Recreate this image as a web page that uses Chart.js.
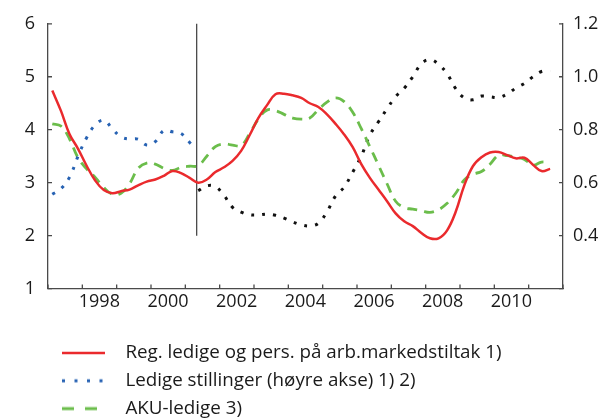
<!DOCTYPE html>
<html lang="no">
<head>
<meta charset="utf-8">
<script src="https://cdn.jsdelivr.net/npm/chart.js@4.4.1/dist/chart.umd.min.js"></script>
<style>
html,body{margin:0;padding:0;background:#fff;}
#wrap{width:603px;height:419px;}
</style>
</head>
<body>
<div id="wrap"><canvas id="chart" width="603" height="419"></canvas></div>
<script>
// kvartalstall (midt i kvartalet)
const tidA=[1997.125,1997.375,1997.625,1997.875,1998.125,1998.375,1998.625,1998.875,
  1999.125,1999.375,1999.625,1999.875,2000.125,2000.375,2000.625,2000.875,
  2001.125,2001.375,2001.625,2001.875,2002.125,2002.375,2002.625,2002.875,
  2003.125,2003.375,2003.625,2003.875,2004.125,2004.375,2004.625,2004.875,
  2005.125,2005.375,2005.625,2005.875,2006.125,2006.375,2006.625,2006.875,
  2007.125,2007.375,2007.625,2007.875,2008.125,2008.375,2008.625,2008.875,
  2009.125,2009.375,2009.625,2009.875,2010.125,2010.375,2010.625,2010.875,
  2011.125,2011.375,2011.625];
const regLedige=[4.74,4.36,3.92,3.64, 3.32,3.04,2.86,2.80, 2.84,2.87,2.95,3.02,
  3.06,3.13,3.22,3.18, 3.09,3.00,3.06,3.20, 3.29,3.41,3.60,3.90, 4.22,4.46,4.67,4.68,
  4.65,4.60,4.50,4.43, 4.29,4.11,3.91,3.67, 3.35,3.09,2.87,2.65, 2.42,2.27,2.18,2.05,
  1.95,1.95,2.10,2.45, 2.95,3.31,3.48,3.57, 3.58,3.52,3.46,3.47, 3.34,3.22,3.26];
const akuLedige=[4.11,4.07,3.83,3.47, 3.26,3.10,2.91,2.78, 2.80,2.98,3.27,3.37,
  3.35,3.27,3.23,3.29, 3.31,3.32,3.50,3.68, 3.73,3.71,3.70,3.93, 4.20,4.37,4.36,4.29,
  4.22,4.20,4.22,4.38, 4.52,4.60,4.53,4.33, 4.02,3.68,3.33,2.98, 2.65,2.53,2.50,2.47,
  2.44,2.49,2.61,2.80, 3.05,3.16,3.21,3.35, 3.52,3.51,3.48,3.44, 3.33,3.39,3.38];

// ledige stillinger, gammel serie fram til brudd
const tidB=[1997.125,1997.375,1997.625,1997.875,1998.125,1998.375,1998.625,1998.875,
  1999.125,1999.375,1999.625,1999.875,2000.125,2000.375,2000.625,2000.875,2001.125,2001.2];
const stillingerGml=[0.556,0.577,0.620,0.700, 0.770,0.818,0.836,0.803, 0.773,0.765,0.764,0.742,
  0.755,0.797,0.792,0.786, 0.752,0.742];

// ny serie etter brudd
const tidC=[2001.375,2001.625,2001.875,2002.125,2002.375,2002.625,2002.875,
  2003.125,2003.375,2003.625,2003.875,2004.125,2004.375,2004.625,2004.875,
  2005.125,2005.375,2005.625,2005.875,2006.125,2006.375,2006.625,2006.875,
  2007.125,2007.375,2007.625,2007.875,2008.125,2008.375,2008.625,2008.875,
  2009.125,2009.375,2009.625,2009.875,2010.125,2010.375,2010.625,2010.875,
  2011.125,2011.375,2011.625];
const stillingerNy=[0.570,0.588,0.585, 0.552,0.507,0.489,0.479, 0.478,0.481,0.477,0.466,
  0.452,0.441,0.437,0.447, 0.490,0.550,0.583,0.640, 0.700,0.780,0.830,0.879,
  0.925,0.957,1.000,1.049, 1.065,1.047,1.011,0.955, 0.920,0.913,0.927,0.924,
  0.922,0.935,0.957,0.975, 1.000,1.020,1.022];

const aarEtiketter=['1998','2000','2002','2004','2006','2008','2010'];
const bruddAar=2001.33;

const aksefarge='#4a4a4a';
const tekstfarge='#1a1a1a';
const rod='#ea2a2d', gronn='#6bbd4b', bla='#2762b3', svart='#111111';

Chart.defaults.font.family='"Open Sans", Lato, sans-serif';
Chart.defaults.font.size=18;
Chart.defaults.color=tekstfarge;

const punkter=(xs,ys)=>xs.map((x,i)=>({x,y:ys[i]}));

// liten strekprøve til forklaringen
function strekprove(farge,dash,bredde){
  const c=document.createElement('canvas'); c.width=107; c.height=8;
  const g=c.getContext('2d');
  g.strokeStyle=farge; g.lineWidth=bredde; g.setLineDash(dash);
  g.beginPath(); g.moveTo(53,4); g.lineTo(96,4); g.stroke();
  return c;
}
const prover=[strekprove(rod,[],2.5),strekprove(bla,[3,9.5],3),strekprove(gronn,[12,11],3)];

// innvendige tikkmerker og bruddlinje
const aksePynt={
  id:'aksePynt',
  beforeDatasetsDraw(chart){
    const {ctx,scales:{x,y}}=chart;
    const bx=x.getPixelForValue(bruddAar);
    ctx.save(); ctx.strokeStyle=aksefarge; ctx.lineWidth=1.3;
    ctx.beginPath(); ctx.moveTo(bx,y.getPixelForValue(6)); ctx.lineTo(bx,y.getPixelForValue(2)); ctx.stroke();
    ctx.restore();
  },
  afterDraw(chart){
    const {ctx,chartArea:a,scales:{x,y,y2}}=chart;
    ctx.save(); ctx.strokeStyle=aksefarge; ctx.lineWidth=1.3; ctx.beginPath();
    x.ticks.forEach(t=>{const p=x.getPixelForValue(t.value); ctx.moveTo(p,a.bottom); ctx.lineTo(p,a.bottom-4);});
    y.ticks.forEach(t=>{const p=y.getPixelForValue(t.value); ctx.moveTo(a.left,p); ctx.lineTo(a.left+4,p);});
    y2.ticks.forEach(t=>{const p=y2.getPixelForValue(t.value); ctx.moveTo(a.right,p); ctx.lineTo(a.right-4,p);});
    ctx.stroke(); ctx.restore();
  }
};

new Chart(document.getElementById('chart'),{
  type:'line',
  data:{datasets:[
    {label:'Reg. ledige og pers. på arb.markedstiltak 1)',data:punkter(tidA,regLedige),yAxisID:'y',
      borderColor:rod,borderWidth:2.5,tension:0.4},
    {label:'Ledige stillinger (høyre akse) 1) 2)',data:punkter(tidB,stillingerGml),yAxisID:'y2',
      borderColor:bla,borderWidth:3,borderDash:[3,8],tension:0.4},
    {label:'AKU-ledige 3)',data:punkter(tidA,akuLedige),yAxisID:'y',
      borderColor:gronn,borderWidth:2.8,borderDash:[10,7],tension:0.4},
    {label:'ny',data:punkter(tidC,stillingerNy),yAxisID:'y2',
      borderColor:svart,borderWidth:3,borderDash:[3,8],tension:0.4}
  ]},
  options:{
    responsive:false,animation:false,devicePixelRatio:1,
    elements:{point:{radius:0}},
    layout:{padding:{top:22,left:0,right:0,bottom:-9}},
    plugins:{
      tooltip:{enabled:false},
      legend:{position:'bottom',align:'start',
        labels:{usePointStyle:true,pointStyleWidth:107,padding:9,color:tekstfarge,
          font:{size:18.8},
          filter:(it)=>it.datasetIndex<3,
          generateLabels(chart){
            return Chart.defaults.plugins.legend.labels.generateLabels(chart).map(l=>({...l,pointStyle:prover[l.datasetIndex]}));
          }}}
    },
    scales:{
      x:{type:'linear',min:1997,max:2012,
        grid:{display:true,drawOnChartArea:false,drawTicks:false},
        border:{color:aksefarge,width:1.3},
        ticks:{stepSize:1,maxTicksLimit:20,autoSkip:false,maxRotation:0,labelOffset:17,padding:2,
          callback:(v)=>aarEtiketter.includes(String(v))?String(v):''},
        afterFit:(s)=>{s.height=46;}},
      y:{position:'left',min:1,max:6,
        grid:{display:true,drawOnChartArea:false,drawTicks:false},
        border:{color:aksefarge,width:1.3},
        ticks:{stepSize:1,padding:13},
        afterFit:(s)=>{s.width=48;}},
      y2:{position:'right',min:0.2,max:1.2,
        grid:{display:true,drawOnChartArea:false,drawTicks:false},
        border:{color:aksefarge,width:1.3},
        ticks:{stepSize:0.2,padding:10,callback:(v)=>v<0.3?'':v.toFixed(1)},
        afterFit:(s)=>{s.width=40;}}
    }
  },
  plugins:[aksePynt]
});
</script>
</body>
</html>
